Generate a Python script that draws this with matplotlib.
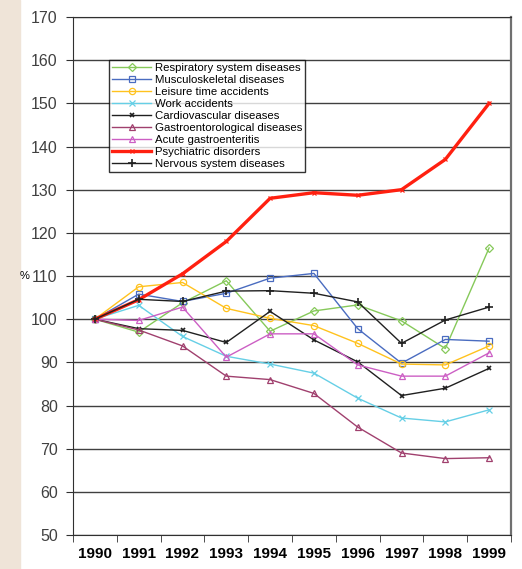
import matplotlib
matplotlib.use('Agg')
import matplotlib.pyplot as plt
import numpy as np
from matplotlib.patches import Rectangle

plt.rcParams['font.family'] = ['Liberation Sans', 'DejaVu Sans']

years = ['1990', '1991', '1992', '1993', '1994', '1995', '1996', '1997', '1998', '1999']

respiratory = [100, 97.0, 103.8, 108.9, 97.2, 101.9, 103.3, 99.6, 93.2, 116.5]
musculoskeletal = [100, 105.8, 104.1, 106.0, 109.5, 110.6, 97.8, 89.8, 95.3, 94.9]
leisure = [100, 107.5, 108.5, 102.5, 100.2, 98.5, 94.4, 89.6, 89.4, 93.8]
work = [100, 103.2, 96.0, 91.4, 89.6, 87.5, 81.7, 77.1, 76.2, 79.0]
cardio = [100, 97.8, 97.4, 94.6, 101.8, 95.2, 90.1, 82.3, 84.0, 88.6]
gastroent = [100, 97.5, 93.8, 86.8, 86.0, 82.8, 75.0, 69.0, 67.7, 67.9]
acute = [100, 99.7, 102.8, 91.2, 96.6, 96.6, 89.4, 86.8, 86.8, 92.2]
psychiatric = [100, 104.5, 110.5, 118.0, 128.0, 129.3, 128.7, 130.0, 137.0, 150.0]
nervous = [100, 104.6, 104.1, 106.5, 106.6, 106.0, 104.0, 94.4, 99.8, 102.8]

x = np.arange(len(years))

fig = plt.figure(figsize=(5.22, 5.69), dpi=100)
fig.patches.append(Rectangle((0, 0), 20 / 522, 1, transform=fig.transFigure,
                             color='#efe4d8', zorder=0))
ax = fig.add_axes([73 / 522, 34 / 569, 438 / 522, 518 / 569])

ax.set_ylim(50, 170)
ax.set_xlim(-0.5, 9.5)
ax.set_yticks(np.arange(50, 171, 10))
ax.yaxis.grid(True, color='#404040', lw=1.0)
ax.set_axisbelow(True)

kw = dict(lw=1.0, ms=4.5, mfc='none', mew=0.9)
ax.plot(x, respiratory, color='#86c95a', marker='D', ms=4, lw=1.0, mfc='none', mew=0.9,
        label='Respiratory system diseases')
ax.plot(x, musculoskeletal, color='#4a6cc0', marker='s', label='Musculoskeletal diseases', **kw)
ax.plot(x, leisure, color='#ffc21e', marker='o', label='Leisure time accidents', **kw)
ax.plot(x, work, color='#66cfe6', marker='x', ms=4, lw=1.0, mew=0.9, label='Work accidents')
ax.plot(x, cardio, color='#202020', marker='x', ms=3.5, lw=1.0, mew=1.2, label='Cardiovascular diseases')
ax.plot(x, gastroent, color='#a0406e', marker='^', label='Gastroentorological diseases', **kw)
ax.plot(x, acute, color='#cc5fc4', marker='^', label='Acute gastroenteritis', **kw)
ax.plot(x, psychiatric, color='#ff2010', marker='x', ms=3.5, lw=2.4, mew=0.9, label='Psychiatric disorders')
ax.plot(x, nervous, color='#202020', marker='+', ms=5.5, lw=1.0, mew=1.2, label='Nervous system diseases')

ax.set_xticks(x)
ax.set_xticklabels(years, fontsize=11, fontweight='bold')
ax.set_xticks(np.arange(-0.5, 10, 1), minor=True)
ax.tick_params(axis='x', which='major', length=0, pad=9)
ax.tick_params(axis='x', which='minor', length=5, direction='out', color='#303030')
ax.tick_params(axis='y', length=5, direction='out', labelsize=11.5, color='#303030',
               labelcolor='#404040', pad=6)
for s in ax.spines.values():
    s.set_color('#303030')
ax.spines['right'].set_color('#707070')
ax.spines['right'].set_linewidth(1.6)

fig.text(20 / 522, 1 - 276 / 569, '%', fontsize=8, ha='left', va='center')

leg = ax.legend(loc='upper left', bbox_to_anchor=(36 / 438, 1 - 43 / 518),
                fontsize=8.2, frameon=True, fancybox=False, edgecolor='black',
                handlelength=3.4, labelspacing=0.17, borderpad=0.3, handletextpad=0.3,
                borderaxespad=0)
leg.get_frame().set_linewidth(1.0)

fig.savefig('out.png', dpi=100)
